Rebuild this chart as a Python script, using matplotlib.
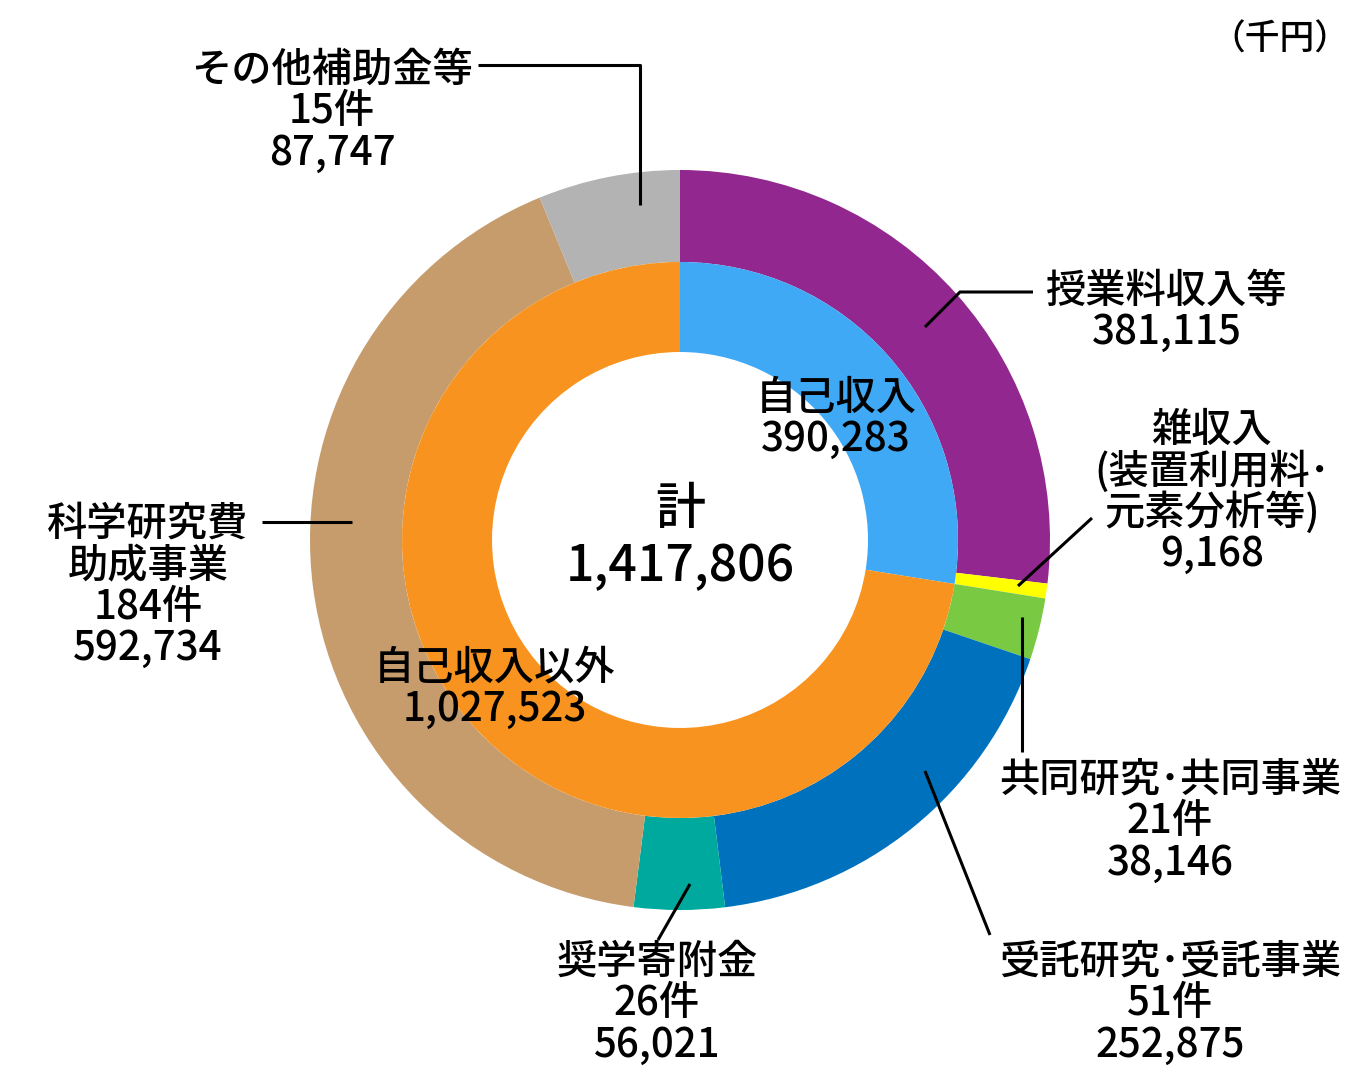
import matplotlib.pyplot as plt

plt.rcParams['font.family'] = ['Noto Sans CJK JP', 'DejaVu Sans']
plt.rcParams['font.weight'] = 'medium'

# outer ring (thousand yen)
outer_labels = ["授業料収入等", "雑収入", "共同研究･共同事業", "受託研究･受託事業",
                "奨学寄附金", "科学研究費助成事業", "その他補助金等"]
outer_values = [381115, 9168, 38146, 252875, 56021, 592734, 87747]
outer_colors = ["#92278F", "#FFFF00", "#7AC943", "#0071BC", "#00A99D", "#C69C6D", "#B3B3B3"]

# inner ring
inner_labels = ["自己収入", "自己収入以外"]
inner_values = [390283, 1027523]
inner_colors = ["#3FA9F5", "#F7931E"]

total = sum(outer_values)

W, H = 1360, 1080
fig = plt.figure(figsize=(13.6, 10.8), dpi=100)
ax = fig.add_axes([0, 0, 1, 1])

cx, cy = 680, H - 540

ax.pie(outer_values, colors=outer_colors, radius=370, center=(cx, cy),
       startangle=90, counterclock=False, frame=True,
       wedgeprops=dict(width=92, linewidth=0))
ax.pie(inner_values, colors=inner_colors, radius=278, center=(cx, cy),
       startangle=90, counterclock=False, frame=True,
       wedgeprops=dict(width=90, linewidth=0))
ax.set_xlim(0, W)
ax.set_ylim(0, H)
ax.set_aspect("equal")
ax.axis("off")


def block(x, y, lines, size=29, pitch=41.5):
    for i, s in enumerate(lines):
        ax.text(x, H - (y + i * pitch), s, ha="center", va="center",
                fontsize=size, color="black")


def leader(xs, ys):
    ax.plot(xs, [H - v for v in ys], color="black", lw=2.2, solid_capstyle="butt")


fmt = lambda v: f"{v:,}"

block(332, 70, ["その他補助金等", "15件", fmt(outer_values[6])])
leader([478, 640, 640], [65, 65, 205])

block(1167, 291, [outer_labels[0], fmt(outer_values[0])])
leader([1033, 960, 925], [292, 292, 327])

block(1212, 430, ["雑収入", "(装置利用料･", "元素分析等)", fmt(outer_values[1])])
leader([1092, 1018], [518, 586])

block(1170, 780, [outer_labels[2], "21件", fmt(outer_values[2])])
leader([1022, 1022], [617, 752])

block(1170, 962, [outer_labels[3], "51件", fmt(outer_values[3])])
leader([925, 990], [771, 935])

block(657, 962, [outer_labels[4], "26件", fmt(outer_values[4])])
leader([658, 690], [940, 884])

block(148, 524, ["科学研究費", "助成事業", "184件", fmt(outer_values[5])])
leader([262, 352], [522, 522])

block(836, 398, [inner_labels[0], fmt(inner_values[0])])
block(495, 668, [inner_labels[1], fmt(inner_values[1])])

block(680, 510, ["計", fmt(total)], size=36, pitch=57)

ax.text(1280, H - 40, "（千円）", ha="center", va="center", fontsize=25)

fig.savefig("out.png", dpi=100)
